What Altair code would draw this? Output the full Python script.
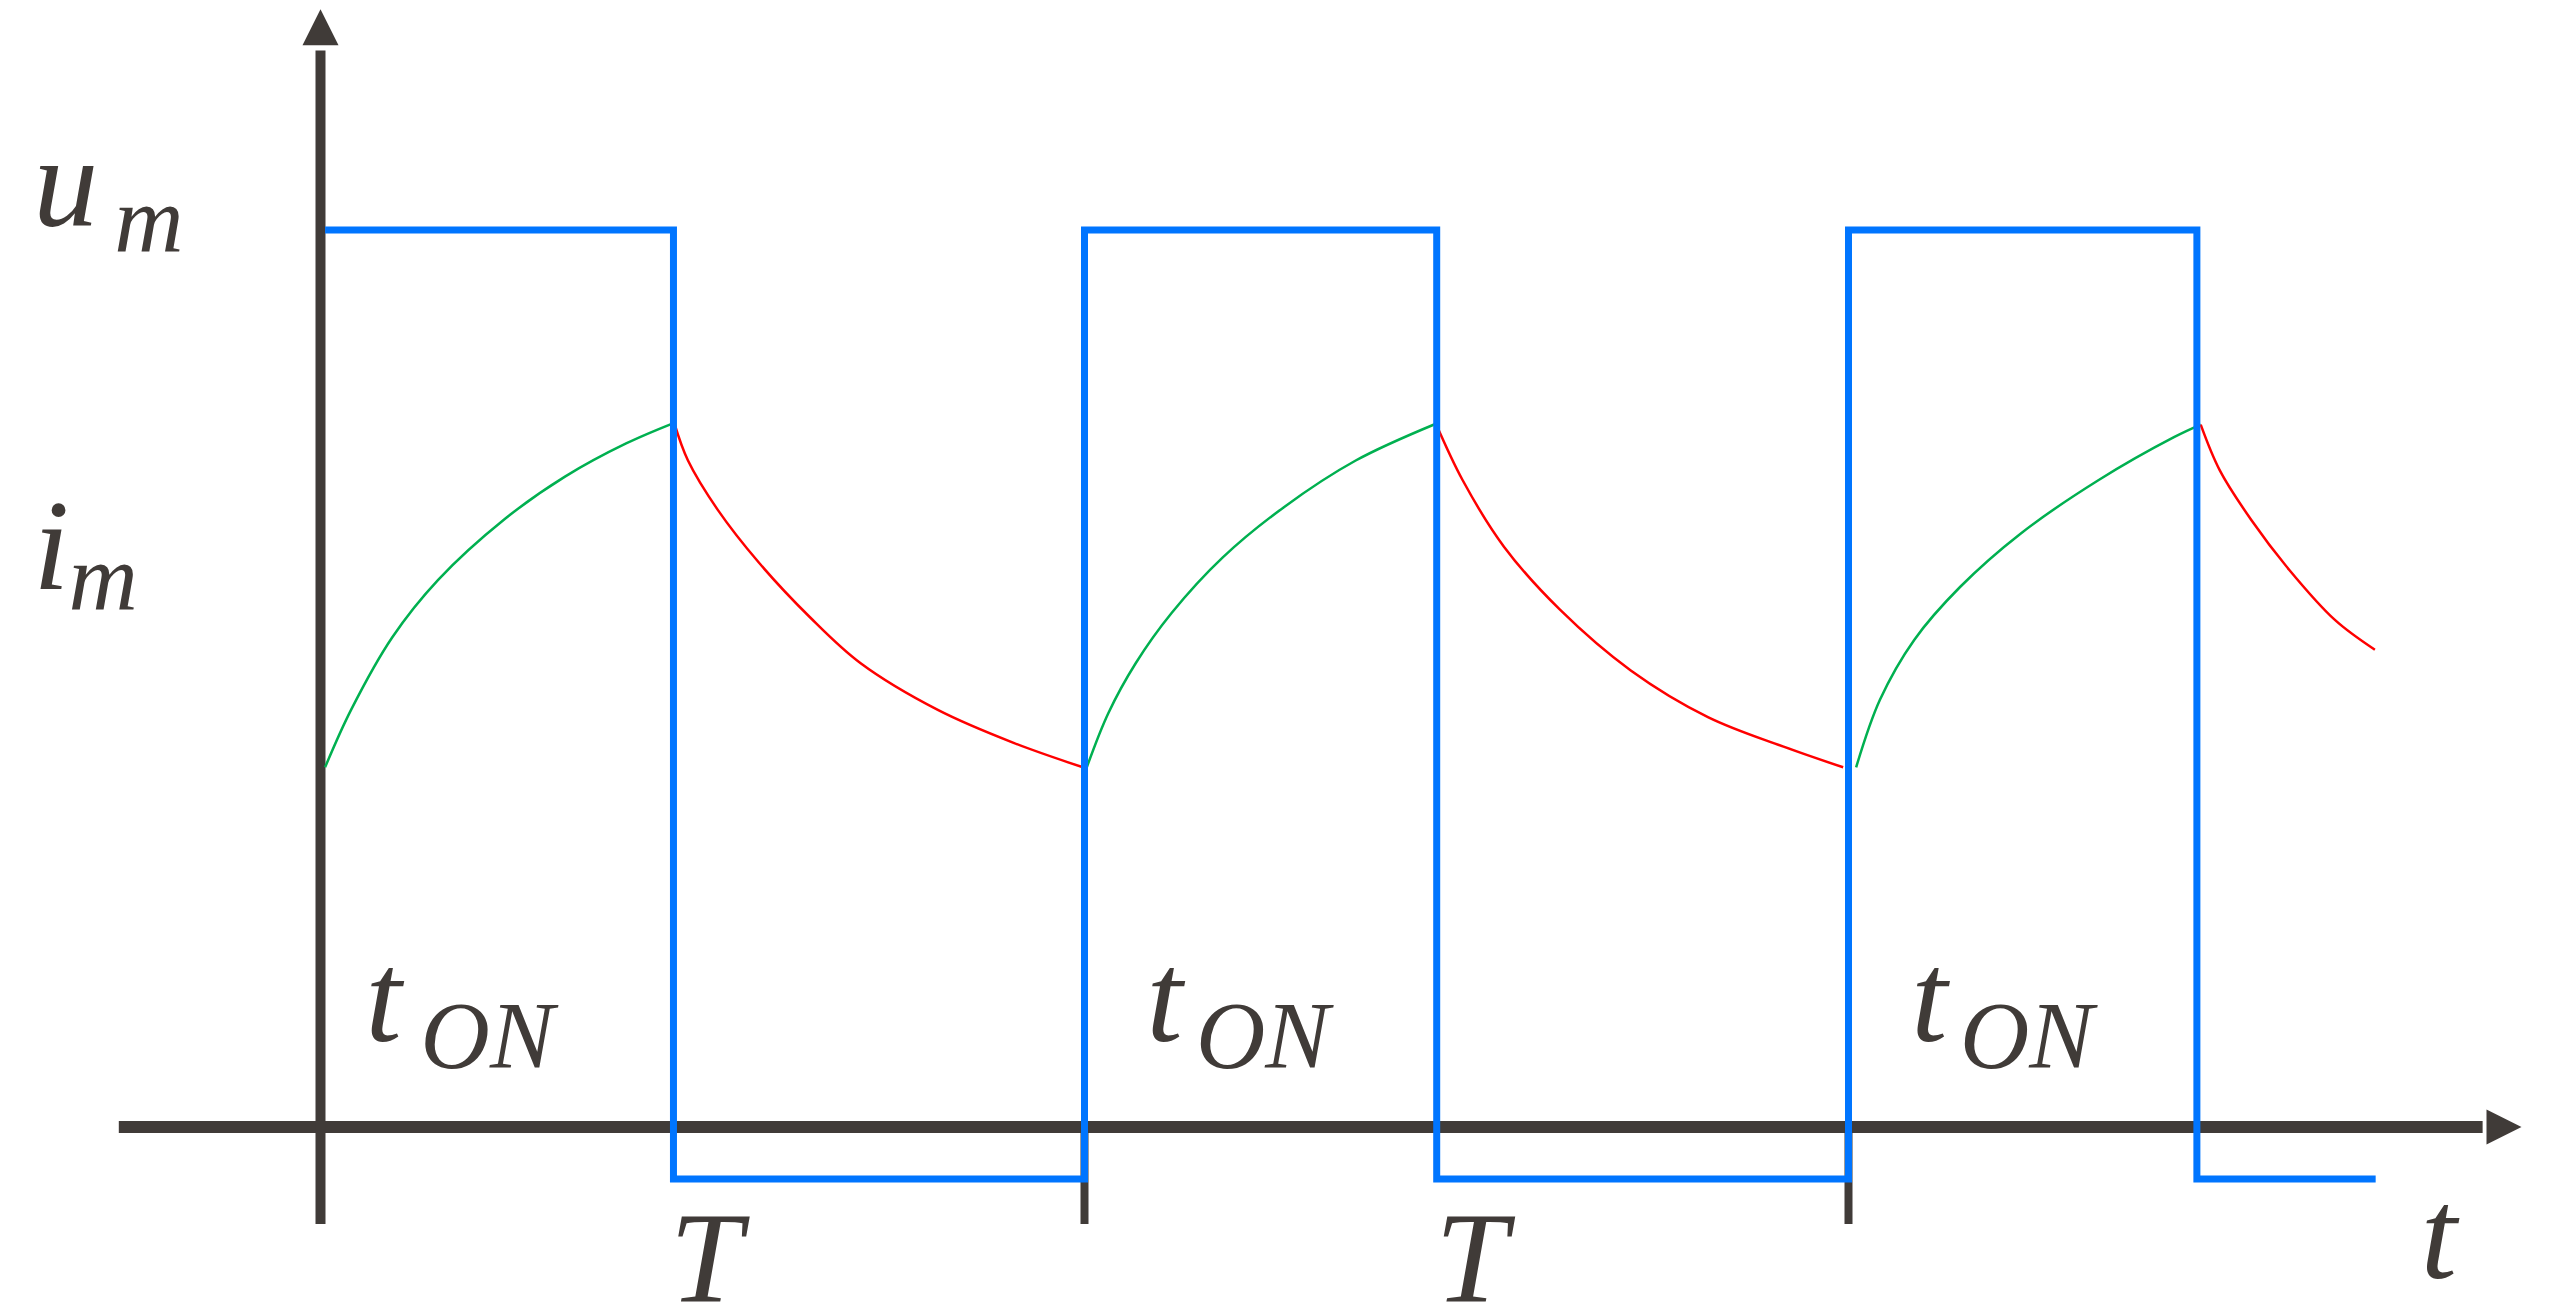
import altair as alt
import pandas as pd

# ---------------- data (time in units of T, amplitude in units of u_m) ----------------
u_high = 1.0
u_low = -0.058
blue_t = [0.006, 0.462, 0.462, 1.000, 1.000, 1.461, 1.461, 2.000, 2.000, 2.456, 2.456, 2.690]
blue_u = [u_high, u_high, u_low, u_low, u_high, u_high, u_low, u_low, u_high, u_high, u_low, u_low]

# current while ON (green) and OFF (red)
green1_t = [0.006, 0.040, 0.094, 0.154, 0.240, 0.320, 0.400, 0.463]
green1_i = [0.401, 0.465, 0.546, 0.610, 0.677, 0.725, 0.762, 0.785]
red1_t = [0.463, 0.481, 0.520, 0.574, 0.641, 0.707, 0.808, 0.908, 0.998]
red1_i = [0.785, 0.743, 0.688, 0.629, 0.568, 0.517, 0.465, 0.428, 0.401]

green2_t = [1.003, 1.031, 1.067, 1.114, 1.181, 1.261, 1.355, 1.460]
green2_i = [0.401, 0.461, 0.517, 0.573, 0.635, 0.691, 0.743, 0.784]
red2_t = [1.460, 1.495, 1.549, 1.622, 1.715, 1.816, 1.915, 1.993]
red2_i = [0.784, 0.721, 0.647, 0.577, 0.509, 0.457, 0.424, 0.401]

green3_t = [2.010, 2.041, 2.086, 2.146, 2.226, 2.327, 2.426, 2.461]
green3_i = [0.401, 0.476, 0.543, 0.602, 0.662, 0.721, 0.769, 0.783]
red3_t = [2.461, 2.486, 2.527, 2.577, 2.637, 2.689]
red3_i = [0.783, 0.732, 0.677, 0.621, 0.565, 0.532]

# axes
x_axis_from, x_axis_to = -0.264, 2.830
y_axis_from, y_axis_to = -0.108, 1.200
period_ticks = [1.0, 2.0]
tick_bottom = -0.108
x_arrow = (2.858, 0.0)
y_arrow = (0.0, 1.226)

# labels
main_text = ["u", "i", "t", "t", "t", "T", "T", "t"]
main_t = [-0.376, -0.376, 0.059, 1.081, 2.082, 0.457, 1.459, 2.749]
main_v = [1.006, 0.600, 0.096, 0.096, 0.096, -0.194, -0.194, -0.168]
sub_text = ["m", "m", "ON", "ON", "ON"]
sub_t = [-0.270, -0.330, 0.131, 1.146, 2.146]
sub_v = [0.975, 0.576, 0.066, 0.066, 0.066]

# ---------------- layout ----------------
W, H = 2535, 1297
t_dom = [-0.40903, 2.90903]
v_dom = [-0.19844, 1.24749]
AXIS = "#403b38"
BLUE = "#0075ff"
GREEN = "#00b050"
RED = "#ff0000"

xs = alt.Scale(domain=t_dom, nice=False, zero=False)
ys = alt.Scale(domain=v_dom, nice=False, zero=False)


def X(f):
    return alt.X(f, type="quantitative", scale=xs, axis=None)


def Y(f):
    return alt.Y(f, type="quantitative", scale=ys, axis=None)


# data frames
blue_df = pd.DataFrame({"t": blue_t, "v": blue_u, "i": list(range(len(blue_t)))})

rows = []
for name, ts, vs in [("g1", green1_t, green1_i), ("g2", green2_t, green2_i), ("g3", green3_t, green3_i)]:
    for k, (a, b) in enumerate(zip(ts, vs)):
        rows.append({"seg": name, "t": a, "v": b, "i": k})
green_df = pd.DataFrame(rows)
rows = []
for name, ts, vs in [("r1", red1_t, red1_i), ("r2", red2_t, red2_i), ("r3", red3_t, red3_i)]:
    for k, (a, b) in enumerate(zip(ts, vs)):
        rows.append({"seg": name, "t": a, "v": b, "i": k})
red_df = pd.DataFrame(rows)

xaxis_df = pd.DataFrame({"t": [x_axis_from], "t2": [x_axis_to], "v": [0.0]})
yaxis_df = pd.DataFrame({"t": [0.0], "v": [y_axis_from], "v2": [y_axis_to]})
ticks_df = pd.DataFrame({"t": period_ticks, "v": [0.0] * len(period_ticks),
                         "v2": [tick_bottom] * len(period_ticks)})
xarr_df = pd.DataFrame({"t": [x_arrow[0]], "v": [x_arrow[1]]})
yarr_df = pd.DataFrame({"t": [y_arrow[0]], "v": [y_arrow[1]]})
main_df = pd.DataFrame({"t": main_t, "v": main_v, "txt": main_text})
sub_df = pd.DataFrame({"t": sub_t, "v": sub_v, "txt": sub_text})

# ---------------- layers ----------------
x_axis = alt.Chart(xaxis_df).mark_rule(color=AXIS, strokeWidth=12).encode(
    x=X("t"), x2="t2", y=Y("v"))
y_axis = alt.Chart(yaxis_df).mark_rule(color=AXIS, strokeWidth=10).encode(
    x=X("t"), y=Y("v"), y2="v2")
ticks = alt.Chart(ticks_df).mark_rule(color=AXIS, strokeWidth=8).encode(
    x=X("t"), y=Y("v"), y2="v2")
x_arrowhead = alt.Chart(xarr_df).mark_point(
    shape="M1,0L-1,-1L-1,1Z", filled=True, size=1225, color=AXIS, opacity=1, strokeWidth=0
).encode(x=X("t"), y=Y("v"))
y_arrowhead = alt.Chart(yarr_df).mark_point(
    shape="M0,-1L1,1L-1,1Z", filled=True, size=1296, color=AXIS, opacity=1, strokeWidth=0
).encode(x=X("t"), y=Y("v"))

green = alt.Chart(green_df).mark_line(color=GREEN, strokeWidth=2.5, interpolate="catmull-rom").encode(
    x=X("t"), y=Y("v"), detail="seg:N", order="i:Q")
red = alt.Chart(red_df).mark_line(color=RED, strokeWidth=2.5, interpolate="catmull-rom").encode(
    x=X("t"), y=Y("v"), detail="seg:N", order="i:Q")
blue = alt.Chart(blue_df).mark_line(color=BLUE, strokeWidth=7, strokeJoin="miter").encode(
    x=X("t"), y=Y("v"), order="i:Q")

main_labels = alt.Chart(main_df).mark_text(
    align="left", baseline="alphabetic", font="Liberation Serif", fontStyle="italic",
    fontSize=130, color=AXIS
).encode(x=X("t"), y=Y("v"), text="txt:N")
sub_labels = alt.Chart(sub_df).mark_text(
    align="left", baseline="alphabetic", font="Liberation Serif", fontStyle="italic",
    fontSize=96, color=AXIS
).encode(x=X("t"), y=Y("v"), text="txt:N")

chart = alt.layer(
    x_axis, y_axis, ticks, x_arrowhead, y_arrowhead,
    green, red, blue, main_labels, sub_labels
).properties(
    width=W, height=H, padding=0, autosize=alt.AutoSizeParams(type="none"), background="white"
).configure_view(stroke=None)

chart.save("out.html", embed_options={"renderer": "svg", "actions": False})
